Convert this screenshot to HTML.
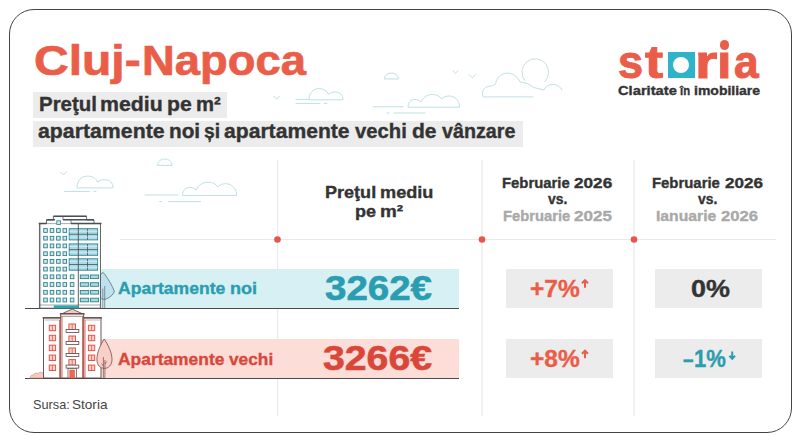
<!DOCTYPE html>
<html><head><meta charset="utf-8">
<style>
html,body{margin:0;padding:0;background:#fff;}
body{width:800px;height:442px;position:relative;overflow:hidden;font-family:"Liberation Sans",sans-serif;}
.card{position:absolute;left:8.7px;top:8.5px;width:783.2px;height:424.8px;border:1.4px solid #444;border-radius:25px;box-sizing:border-box;background:#fff;}
.t{position:absolute;white-space:nowrap;line-height:1;font-weight:bold;transform-origin:0 0;}
.c{position:absolute;white-space:nowrap;line-height:1;font-weight:bold;text-align:center;transform-origin:50% 0;}
.box{position:absolute;}
svg{position:absolute;left:0;top:0;}
</style></head><body>
<div class="card"></div>
<svg id="bg" width="800" height="442" viewBox="0 0 800 442">
<!--CLOUDS-->
<g fill="none" stroke="#bfe0e2" stroke-width="1" stroke-linecap="round" stroke-linejoin="round">
<path d="M273.6,96.1 L276.6,99.1 L279.6,96.1"/>
<path d="M309.0,99.4 C309.0,93.0 313.0,88.6 319.0,88.6 C324.0,88.6 327.0,91.0 328.5,94.5 C330.0,92.7 332.5,92.0 335.0,92.0 C340.0,92.0 343.0,95.0 343.0,99.4 Z"/>
<path d="M296.0,99.4 L309.0,99.4"/>
<path d="M296.0,103.4 L320.0,103.4"/>
<path d="M324.0,103.4 L327.0,103.4"/>
<path d="M384.4,78.6 C384.4,71.1 398.4,71.1 398.4,78.6 Z"/>
<path d="M408.0,106.8 C408.0,102.0 411.0,99.5 415.0,99.5 C417.5,99.5 419.5,100.5 421.0,102.0 C423.0,97.5 427.0,94.5 432.5,94.5 C437.0,94.5 440.0,96.5 441.5,99.0 C443.5,97.0 446.0,96.0 449.0,96.0 C455.0,96.0 459.5,100.5 459.5,106.8 Z"/>
<path d="M373.0,106.8 L403.0,106.8"/>
<path d="M394.0,113.0 L425.0,113.0"/>
<path d="M387.0,113.0 L389.0,113.0"/>
<path d="M453.0,70.8 L455.5,73.2 L458.0,70.8"/>
<path d="M469.1,74.6 L472.3,77.8 L475.6,74.6"/>
<path d="M533.1,96.9 L483.1,96.9 C481,92 484,86.8 489,86.3 C491.5,86 494,85.3 495.6,83.8 C496.5,77.5 501.5,73.1 507.5,73.1 C513.5,73.1 517.5,77 520,82 C523,82.3 525.5,83 527.5,83.8 C530,84.8 532,86 533.8,87.5 C537,88 540.5,89.5 543.8,90 C545.5,86.5 549,84.4 552.5,84.4 C557,84.4 560.5,86.5 561.9,90"/>
<path d="M524.5,80.2 A13.4,13.4 0 1 1 544.65,81.8" stroke="#cfdcdc"/>
<path d="M60.4,171.9 L63.4,174.9 L66.4,171.9"/>
<path d="M77.0,187.5 C77.0,180.7 81.2,176.1 87.6,176.1 C92.9,176.1 96.1,178.6 97.7,182.3 C99.3,180.4 101.9,179.7 104.6,179.7 C109.9,179.7 113.0,182.8 113.0,187.5 Z"/>
<path d="M64.6,191.4 L89.5,191.4"/>
<path d="M94.0,191.4 L96.0,191.4"/>
<path d="M157.6,165.0 C157.6,156.9 172.0,156.9 172.0,165.0 Z"/>
<path d="M182.5,195.0 C182.5,190.0 185.7,187.4 189.8,187.4 C192.5,187.4 194.6,188.4 196.2,190.0 C198.2,185.3 202.4,182.1 208.2,182.1 C212.9,182.1 216.1,184.2 217.7,186.9 C219.8,184.8 222.4,183.7 225.6,183.7 C231.8,183.7 236.6,188.4 236.6,195.0 Z"/>
<path d="M145.0,195.0 L178.0,195.0"/>
<path d="M168.4,201.6 L200.5,201.6"/>
<path d="M159.6,201.6 L161.6,201.6"/>
</g>
<!--/CLOUDS-->
<!-- grid lines -->
<g stroke="#e9e9e9" stroke-width="1.2" fill="none">
<line x1="277.5" y1="160" x2="277.5" y2="416"/>
<line x1="482" y1="160" x2="482" y2="416"/>
<line x1="634" y1="160" x2="634" y2="416"/>
<line x1="120" y1="239.5" x2="776" y2="239.5"/>
</g>
<g fill="#e5564f">
<circle cx="277.5" cy="239.5" r="3.3"/>
<circle cx="482" cy="239.5" r="3.3"/>
<circle cx="634" cy="239.5" r="3.3"/>
</g>
</svg>
<!-- heading boxes -->
<div class="box" style="left:33.3px;top:92px;width:193.7px;height:25.8px;background:#ececec"></div>
<div class="box" style="left:33.3px;top:120.7px;width:489.3px;height:26.1px;background:#ececec"></div>
<!-- bands -->
<div class="box" style="left:100.6px;top:268.8px;width:358.4px;height:39.6px;background:#d6f0f3"></div>
<div class="box" style="left:100.6px;top:339.1px;width:358.4px;height:39.2px;background:#fcddd7"></div>
<div class="box" style="left:24.5px;top:308.1px;width:434.5px;height:1.3px;background:#4a4a4a"></div>
<div class="box" style="left:24.5px;top:378px;width:434.5px;height:1.3px;background:#4a4a4a"></div>
<svg width="800" height="442" viewBox="0 0 800 442"><!--BLD-->
<g id="b1" stroke-linejoin="miter">
<path d="M103.1,272.4 C106.5,276 112.5,286 114.3,291.2 C113.5,295 109,298.2 105,299.3 C103,299.6 101.5,299 100.5,298 L100.5,274.5 Z" fill="#bfe0ec" stroke="#56707c" stroke-width="0.8"/>
<path d="M102.8,288.6 L102.8,308 M104.7,286 L104.7,308" stroke="#56707c" stroke-width="0.7" fill="none"/>
<rect x="39.4" y="223.6" width="61" height="84.6" fill="#fff" stroke="#4a4f57" stroke-width="0.9"/>
<path d="M46.5,223.6 L46.5,220 L53.4,220 L53.4,216.4 L86.6,216.4 L86.6,220 L94,220 L94,223.6" fill="#fff" stroke="#4a4f57" stroke-width="0.8"/>
<path d="M53.4,216.3 L86.6,216.3 M63,219.8 L94,219.8 M46.5,219.8 L55,219.8 M38.7,223.5 L46.5,223.5 M71,223.5 L101.5,223.5" stroke="#4a4f57" stroke-width="1.5" fill="none"/>
<path d="M63,216.4 L63,220 M71,220 L71,223.6" stroke="#4a4f57" stroke-width="0.7"/>
<rect x="56.8" y="220.8" width="3.8" height="3.6" fill="#cdeaf0" stroke="#33808d" stroke-width="0.8"/>
<rect x="43.7" y="228.6" width="3.6" height="3.8" fill="#cdeaf0" stroke="#33808d" stroke-width="0.9"/>
<rect x="50.2" y="228.6" width="3.6" height="3.8" fill="#cdeaf0" stroke="#33808d" stroke-width="0.9"/>
<rect x="56.6" y="228.6" width="3.6" height="3.8" fill="#cdeaf0" stroke="#33808d" stroke-width="0.9"/>
<rect x="63.0" y="228.6" width="3.6" height="3.8" fill="#cdeaf0" stroke="#33808d" stroke-width="0.9"/>
<rect x="43.7" y="236.3" width="3.6" height="3.8" fill="#cdeaf0" stroke="#33808d" stroke-width="0.9"/>
<rect x="50.2" y="236.3" width="3.6" height="3.8" fill="#cdeaf0" stroke="#33808d" stroke-width="0.9"/>
<rect x="56.6" y="236.3" width="3.6" height="3.8" fill="#cdeaf0" stroke="#33808d" stroke-width="0.9"/>
<rect x="63.0" y="236.3" width="3.6" height="3.8" fill="#cdeaf0" stroke="#33808d" stroke-width="0.9"/>
<rect x="43.7" y="244.0" width="3.6" height="3.8" fill="#cdeaf0" stroke="#33808d" stroke-width="0.9"/>
<rect x="50.2" y="244.0" width="3.6" height="3.8" fill="#cdeaf0" stroke="#33808d" stroke-width="0.9"/>
<rect x="56.6" y="244.0" width="3.6" height="3.8" fill="#cdeaf0" stroke="#33808d" stroke-width="0.9"/>
<rect x="63.0" y="244.0" width="3.6" height="3.8" fill="#cdeaf0" stroke="#33808d" stroke-width="0.9"/>
<rect x="43.7" y="251.8" width="3.6" height="3.8" fill="#cdeaf0" stroke="#33808d" stroke-width="0.9"/>
<rect x="50.2" y="251.8" width="3.6" height="3.8" fill="#cdeaf0" stroke="#33808d" stroke-width="0.9"/>
<rect x="56.6" y="251.8" width="3.6" height="3.8" fill="#cdeaf0" stroke="#33808d" stroke-width="0.9"/>
<rect x="63.0" y="251.8" width="3.6" height="3.8" fill="#cdeaf0" stroke="#33808d" stroke-width="0.9"/>
<rect x="43.7" y="259.5" width="3.6" height="3.8" fill="#cdeaf0" stroke="#33808d" stroke-width="0.9"/>
<rect x="50.2" y="259.5" width="3.6" height="3.8" fill="#cdeaf0" stroke="#33808d" stroke-width="0.9"/>
<rect x="56.6" y="259.5" width="3.6" height="3.8" fill="#cdeaf0" stroke="#33808d" stroke-width="0.9"/>
<rect x="63.0" y="259.5" width="3.6" height="3.8" fill="#cdeaf0" stroke="#33808d" stroke-width="0.9"/>
<rect x="43.7" y="267.2" width="3.6" height="3.8" fill="#cdeaf0" stroke="#33808d" stroke-width="0.9"/>
<rect x="50.2" y="267.2" width="3.6" height="3.8" fill="#cdeaf0" stroke="#33808d" stroke-width="0.9"/>
<rect x="56.6" y="267.2" width="3.6" height="3.8" fill="#cdeaf0" stroke="#33808d" stroke-width="0.9"/>
<rect x="63.0" y="267.2" width="3.6" height="3.8" fill="#cdeaf0" stroke="#33808d" stroke-width="0.9"/>
<rect x="43.7" y="274.9" width="3.6" height="3.8" fill="#cdeaf0" stroke="#33808d" stroke-width="0.9"/>
<rect x="50.2" y="274.9" width="3.6" height="3.8" fill="#cdeaf0" stroke="#33808d" stroke-width="0.9"/>
<rect x="56.6" y="274.9" width="3.6" height="3.8" fill="#cdeaf0" stroke="#33808d" stroke-width="0.9"/>
<rect x="63.0" y="274.9" width="3.6" height="3.8" fill="#cdeaf0" stroke="#33808d" stroke-width="0.9"/>
<rect x="70.3" y="274.9" width="3.6" height="3.8" fill="#cdeaf0" stroke="#33808d" stroke-width="0.9"/>
<rect x="43.7" y="282.6" width="3.6" height="3.8" fill="#cdeaf0" stroke="#33808d" stroke-width="0.9"/>
<rect x="50.2" y="282.6" width="3.6" height="3.8" fill="#cdeaf0" stroke="#33808d" stroke-width="0.9"/>
<rect x="56.6" y="282.6" width="3.6" height="3.8" fill="#cdeaf0" stroke="#33808d" stroke-width="0.9"/>
<rect x="63.0" y="282.6" width="3.6" height="3.8" fill="#cdeaf0" stroke="#33808d" stroke-width="0.9"/>
<rect x="70.3" y="282.6" width="3.6" height="3.8" fill="#cdeaf0" stroke="#33808d" stroke-width="0.9"/>
<rect x="43.7" y="290.4" width="3.6" height="3.8" fill="#cdeaf0" stroke="#33808d" stroke-width="0.9"/>
<rect x="50.2" y="290.4" width="3.6" height="3.8" fill="#cdeaf0" stroke="#33808d" stroke-width="0.9"/>
<rect x="56.6" y="290.4" width="3.6" height="3.8" fill="#cdeaf0" stroke="#33808d" stroke-width="0.9"/>
<rect x="63.0" y="290.4" width="3.6" height="3.8" fill="#cdeaf0" stroke="#33808d" stroke-width="0.9"/>
<rect x="70.3" y="290.4" width="3.6" height="3.8" fill="#cdeaf0" stroke="#33808d" stroke-width="0.9"/>
<rect x="43.7" y="298.1" width="3.6" height="3.8" fill="#cdeaf0" stroke="#33808d" stroke-width="0.9"/>
<rect x="50.2" y="298.1" width="3.6" height="3.8" fill="#cdeaf0" stroke="#33808d" stroke-width="0.9"/>
<rect x="56.6" y="298.1" width="3.6" height="3.8" fill="#cdeaf0" stroke="#33808d" stroke-width="0.9"/>
<rect x="63.0" y="298.1" width="3.6" height="3.8" fill="#cdeaf0" stroke="#33808d" stroke-width="0.9"/>
<rect x="70.3" y="298.1" width="3.6" height="3.8" fill="#cdeaf0" stroke="#33808d" stroke-width="0.9"/>
<rect x="69.2" y="228.7" width="28.4" height="11.2" fill="#a9dce8" stroke="#33808d" stroke-width="0.9"/>
<path d="M69.2,234.3 L97.6,234.3 M87.5,228.7 L87.5,239.9" stroke="#4a4f57" stroke-width="0.8" fill="none"/>
<path d="M69.2,231.3 L97.6,231.3 M69.2,237.1 L97.6,237.1" stroke="#e4f4f8" stroke-width="0.6" fill="none"/>
<rect x="69.2" y="243.9" width="28.4" height="11.4" fill="#a9dce8" stroke="#33808d" stroke-width="0.9"/>
<path d="M69.2,249.6 L97.6,249.6 M87.5,243.9 L87.5,255.3" stroke="#4a4f57" stroke-width="0.8" fill="none"/>
<path d="M69.2,246.5 L97.6,246.5 M69.2,252.4 L97.6,252.4" stroke="#e4f4f8" stroke-width="0.6" fill="none"/>
<rect x="69.2" y="258.8" width="28.4" height="11.4" fill="#a9dce8" stroke="#33808d" stroke-width="0.9"/>
<path d="M69.2,264.5 L97.6,264.5 M87.5,258.8 L87.5,270.2" stroke="#4a4f57" stroke-width="0.8" fill="none"/>
<path d="M69.2,261.4 L97.6,261.4 M69.2,267.3 L97.6,267.3" stroke="#e4f4f8" stroke-width="0.6" fill="none"/>
<rect x="80.3" y="275.0" width="8.4" height="3.6" fill="#a6dcd9" stroke="#33808d" stroke-width="0.9"/>
<rect x="90.5" y="275.0" width="8.1" height="3.6" fill="#a6dcd9" stroke="#33808d" stroke-width="0.9"/>
<rect x="80.3" y="282.7" width="8.4" height="3.6" fill="#a6dcd9" stroke="#33808d" stroke-width="0.9"/>
<rect x="90.5" y="282.7" width="8.1" height="3.6" fill="#a6dcd9" stroke="#33808d" stroke-width="0.9"/>
<rect x="80.3" y="290.5" width="8.4" height="3.6" fill="#a6dcd9" stroke="#33808d" stroke-width="0.9"/>
<rect x="90.5" y="290.5" width="8.1" height="3.6" fill="#a6dcd9" stroke="#33808d" stroke-width="0.9"/>
<rect x="80.3" y="298.2" width="8.4" height="3.6" fill="#a6dcd9" stroke="#33808d" stroke-width="0.9"/>
<rect x="90.5" y="298.2" width="8.1" height="3.6" fill="#a6dcd9" stroke="#33808d" stroke-width="0.9"/>
<path d="M78.3,223.6 L78.3,308" stroke="#4a4f57" stroke-width="0.9"/>
<path d="M40.6,224 L40.6,308" stroke="#4a4f57" stroke-width="0.4"/>
<path d="M39.4,305 L100.4,305" stroke="#4a4f57" stroke-width="0.5"/>
<rect x="53.8" y="305.4" width="24.6" height="2.8" fill="#2fa6b4"/>
</g>
<g id="b2">
<path d="M30,378 C30,375.5 32,374.8 33.5,375.2 C34,373 36.5,372.5 38,373.5 C39,371.8 42,371.8 43.5,373.5 L43.5,378 Z" fill="#f7c9c2" stroke="#c98f88" stroke-width="0.6"/>
<rect x="43.5" y="317.8" width="57.5" height="60.2" fill="#fff" stroke="#5b4646" stroke-width="0.9"/>
<path d="M42.6,317.8 L101.9,317.8" stroke="#5b4646" stroke-width="1.2"/>
<path d="M44.6,320 L100,320" stroke="#5b4646" stroke-width="0.4"/>
<rect x="60.7" y="313.8" width="23" height="64.2" fill="#fff" stroke="#5b4646" stroke-width="0.9"/>
<path d="M59.8,313.8 L84.6,313.8" stroke="#5b4646" stroke-width="1.2"/>
<path d="M60.7,316.3 L83.7,316.3" stroke="#5b4646" stroke-width="0.6"/>
<path d="M62,316.3 L62,378 M82.5,316.3 L82.5,378 M59.6,320 L59.6,378 M85,320 L85,378" stroke="#e2574a" stroke-width="0.9" fill="none"/>
<path d="M62.5,313.5 L72.1,309 L81.9,313.5 Z" fill="#f9c6be" stroke="#5b4646" stroke-width="0.8"/>
<rect x="49.3" y="325.3" width="6.3" height="5.4" fill="#fbd3cd" stroke="#e2574a" stroke-width="1"/>
<path d="M52.4,325.3 L52.4,330.7" stroke="#e2574a" stroke-width="0.8"/>
<rect x="88.4" y="325.3" width="6.3" height="5.4" fill="#fbd3cd" stroke="#e2574a" stroke-width="1"/>
<path d="M91.6,325.3 L91.6,330.7" stroke="#e2574a" stroke-width="0.8"/>
<rect x="49.3" y="335.3" width="6.3" height="5.4" fill="#fbd3cd" stroke="#e2574a" stroke-width="1"/>
<path d="M52.4,335.3 L52.4,340.7" stroke="#e2574a" stroke-width="0.8"/>
<rect x="88.4" y="335.3" width="6.3" height="5.4" fill="#fbd3cd" stroke="#e2574a" stroke-width="1"/>
<path d="M91.6,335.3 L91.6,340.7" stroke="#e2574a" stroke-width="0.8"/>
<rect x="49.3" y="345.2" width="6.3" height="5.4" fill="#fbd3cd" stroke="#e2574a" stroke-width="1"/>
<path d="M52.4,345.2 L52.4,350.6" stroke="#e2574a" stroke-width="0.8"/>
<rect x="88.4" y="345.2" width="6.3" height="5.4" fill="#fbd3cd" stroke="#e2574a" stroke-width="1"/>
<path d="M91.6,345.2 L91.6,350.6" stroke="#e2574a" stroke-width="0.8"/>
<rect x="49.3" y="355.1" width="6.3" height="5.4" fill="#fbd3cd" stroke="#e2574a" stroke-width="1"/>
<path d="M52.4,355.1 L52.4,360.5" stroke="#e2574a" stroke-width="0.8"/>
<rect x="88.4" y="355.1" width="6.3" height="5.4" fill="#fbd3cd" stroke="#e2574a" stroke-width="1"/>
<path d="M91.6,355.1 L91.6,360.5" stroke="#e2574a" stroke-width="0.8"/>
<rect x="49.3" y="365.1" width="6.3" height="5.4" fill="#fbd3cd" stroke="#e2574a" stroke-width="1"/>
<path d="M52.4,365.1 L52.4,370.5" stroke="#e2574a" stroke-width="0.8"/>
<rect x="88.4" y="365.1" width="6.3" height="5.4" fill="#fbd3cd" stroke="#e2574a" stroke-width="1"/>
<path d="M91.6,365.1 L91.6,370.5" stroke="#e2574a" stroke-width="0.8"/>
<rect x="68.9" y="324.0" width="6.6" height="5.6" fill="#fbd3cd" stroke="#e2574a" stroke-width="1"/>
<path d="M72.2,324.0 L72.2,329.6" stroke="#e2574a" stroke-width="0.8"/>
<rect x="66.1" y="329.5" width="12.7" height="3" fill="#fff" stroke="#5b4646" stroke-width="0.8"/>
<rect x="68.9" y="336.0" width="6.6" height="5.6" fill="#fbd3cd" stroke="#e2574a" stroke-width="1"/>
<path d="M72.2,336.0 L72.2,341.6" stroke="#e2574a" stroke-width="0.8"/>
<rect x="66.1" y="341.5" width="12.7" height="3" fill="#fff" stroke="#5b4646" stroke-width="0.8"/>
<rect x="68.9" y="348.0" width="6.6" height="5.6" fill="#fbd3cd" stroke="#e2574a" stroke-width="1"/>
<path d="M72.2,348.0 L72.2,353.6" stroke="#e2574a" stroke-width="0.8"/>
<rect x="66.1" y="353.5" width="12.7" height="3" fill="#fff" stroke="#5b4646" stroke-width="0.8"/>
<rect x="68.9" y="359.6" width="6.6" height="5.6" fill="#fbd3cd" stroke="#e2574a" stroke-width="1"/>
<path d="M72.2,359.6 L72.2,365.2" stroke="#e2574a" stroke-width="0.8"/>
<rect x="66.1" y="365.1" width="12.7" height="3" fill="#fff" stroke="#5b4646" stroke-width="0.8"/>
<rect x="68" y="368.5" width="8.5" height="9.5" fill="#fff" stroke="#5b4646" stroke-width="0.7"/>
<rect x="69.8" y="370" width="4.8" height="8" fill="#ec6a4f" stroke="#e2574a" stroke-width="0.6"/>
<path d="M104.2,339 C107.5,344 112,352 112,359.5 C112,365 108.5,368.4 104.4,368.4 C100.2,368.4 96.9,365 96.9,359.5 C96.9,352 101,344 104.2,339 Z" fill="#f9cfc8" stroke="#7a4a45" stroke-width="0.8"/>
<path d="M103.4,378 L103.4,357 M104.9,378 L104.9,360 M104.9,364 L106.8,361.5 M103.4,366 L101.5,363.5" stroke="#7a4a45" stroke-width="0.7" fill="none"/>
</g>
<!--/BLD--></svg>
<!-- pct boxes -->
<div class="box" style="left:506.4px;top:268.7px;width:106.7px;height:39.5px;background:#ececec"></div>
<div class="box" style="left:655.2px;top:268.7px;width:106.8px;height:39.5px;background:#ececec"></div>
<div class="box" style="left:506.4px;top:339.1px;width:106.7px;height:39.1px;background:#ececec"></div>
<div class="box" style="left:655.2px;top:339.1px;width:106.8px;height:39.1px;background:#ececec"></div>

<!--TEXTS-->
<div class="t" id="ti1" style="left:33.90px;top:40.00px;font-size:42.5px;transform:scaleX(1.1301);color:#ea5e49;-webkit-text-stroke:0.7px #ea5e49;">Cluj-</div>
<div class="t" id="ti2" style="left:142.33px;top:40.00px;font-size:42.5px;transform:scaleX(1.0675);color:#ea5e49;-webkit-text-stroke:0.7px #ea5e49;">Napoca</div>
<div class="t" id="h1a" style="left:38.94px;top:95.00px;font-size:19.5px;transform:scaleX(1.0493);color:#333;-webkit-text-stroke:0.35px #333;">Preţul</div>
<div class="t" id="h1b" style="left:100.41px;top:95.00px;font-size:19.5px;transform:scaleX(1.0932);color:#333;-webkit-text-stroke:0.35px #333;">mediu</div>
<div class="t" id="h1c" style="left:167.01px;top:95.00px;font-size:19.5px;transform:scaleX(1.0894);color:#333;-webkit-text-stroke:0.35px #333;">pe</div>
<div class="t" id="h1d" style="left:195.86px;top:95.00px;font-size:19.5px;transform:scaleX(1.0378);color:#333;-webkit-text-stroke:0.35px #333;">m²</div>
<div class="t" id="h20" style="left:38.45px;top:122.00px;font-size:19.5px;transform:scaleX(1.0913);color:#333;-webkit-text-stroke:0.35px #333;">apartamente</div>
<div class="t" id="h21" style="left:168.69px;top:122.00px;font-size:19.5px;transform:scaleX(1.0648);color:#333;-webkit-text-stroke:0.35px #333;">noi</div>
<div class="t" id="h22" style="left:203.91px;top:122.00px;font-size:19.5px;transform:scaleX(0.9897);color:#333;-webkit-text-stroke:0.35px #333;">și</div>
<div class="t" id="h23" style="left:223.66px;top:122.00px;font-size:19.5px;transform:scaleX(1.0830);color:#333;-webkit-text-stroke:0.35px #333;">apartamente</div>
<div class="t" id="h24" style="left:354.90px;top:122.00px;font-size:19.5px;transform:scaleX(1.0379);color:#333;-webkit-text-stroke:0.35px #333;">vechi</div>
<div class="t" id="h25" style="left:411.59px;top:122.00px;font-size:19.5px;transform:scaleX(1.0791);color:#333;-webkit-text-stroke:0.35px #333;">de</div>
<div class="t" id="h26" style="left:441.50px;top:122.00px;font-size:19.5px;transform:scaleX(1.0118);color:#333;-webkit-text-stroke:0.35px #333;">vânzare</div>
<div class="t" id="c1a" style="left:325.16px;top:184.00px;font-size:16.5px;transform:scaleX(1.0939);color:#333;-webkit-text-stroke:0.35px #333;">Preţul</div>
<div class="t" id="c1b" style="left:379.50px;top:184.00px;font-size:16.5px;transform:scaleX(1.0995);color:#333;-webkit-text-stroke:0.35px #333;">mediu</div>
<div class="t" id="c1c" style="left:355.16px;top:203.00px;font-size:16.5px;transform:scaleX(1.0901);color:#333;-webkit-text-stroke:0.35px #333;">pe</div>
<div class="t" id="c1d" style="left:380.11px;top:203.00px;font-size:16.5px;transform:scaleX(1.1447);color:#333;-webkit-text-stroke:0.35px #333;">m²</div>
<div class="t" id="c2a" style="left:502.24px;top:176.00px;font-size:14.7px;transform:scaleX(1.0106);color:#333;-webkit-text-stroke:0.35px #333;">Februarie</div>
<div class="t" id="c2b" style="left:574.31px;top:176.00px;font-size:14.7px;transform:scaleX(1.1687);color:#333;-webkit-text-stroke:0.35px #333;">2026</div>
<div class="t" id="c2c" style="left:548.30px;top:192.00px;font-size:14.7px;transform:scaleX(0.9487);color:#333;-webkit-text-stroke:0.35px #333;">vs.</div>
<div class="t" id="c2d" style="left:502.65px;top:209.00px;font-size:14.7px;transform:scaleX(1.0045);color:#a9a9a9;-webkit-text-stroke:0.35px #a9a9a9;">Februarie</div>
<div class="t" id="c2e" style="left:574.31px;top:209.00px;font-size:14.7px;transform:scaleX(1.1597);color:#a9a9a9;-webkit-text-stroke:0.35px #a9a9a9;">2025</div>
<div class="t" id="c3a" style="left:652.14px;top:176.00px;font-size:14.7px;transform:scaleX(1.0136);color:#333;-webkit-text-stroke:0.35px #333;">Februarie</div>
<div class="t" id="c3b" style="left:724.51px;top:176.00px;font-size:14.7px;transform:scaleX(1.1625);color:#333;-webkit-text-stroke:0.35px #333;">2026</div>
<div class="t" id="c3c" style="left:698.30px;top:192.00px;font-size:14.7px;transform:scaleX(0.9487);color:#333;-webkit-text-stroke:0.35px #333;">vs.</div>
<div class="t" id="c3d" style="left:656.40px;top:209.00px;font-size:14.7px;transform:scaleX(1.0697);color:#a9a9a9;-webkit-text-stroke:0.35px #a9a9a9;">Ianuarie</div>
<div class="t" id="c3e" style="left:720.72px;top:209.00px;font-size:14.7px;transform:scaleX(1.1344);color:#a9a9a9;-webkit-text-stroke:0.35px #a9a9a9;">2026</div>
<div class="t" id="r1a" style="left:118.14px;top:280.00px;font-size:17px;transform:scaleX(1.0324);color:#2a9db0;-webkit-text-stroke:0.35px #2a9db0;">Apartamente</div>
<div class="t" id="r1b" style="left:229.94px;top:280.00px;font-size:17px;transform:scaleX(1.0638);color:#2a9db0;-webkit-text-stroke:0.35px #2a9db0;">noi</div>
<div class="t" id="r2a" style="left:117.64px;top:351.00px;font-size:17px;transform:scaleX(1.0237);color:#d9473a;-webkit-text-stroke:0.35px #d9473a;">Apartamente</div>
<div class="t" id="r2b" style="left:229.30px;top:351.00px;font-size:17px;transform:scaleX(1.0165);color:#d9473a;-webkit-text-stroke:0.35px #d9473a;">vechi</div>
<div class="t" id="r1v" style="left:325.44px;top:271.00px;font-size:34.6px;transform:scaleX(1.1129);color:#2a9db0;-webkit-text-stroke:0.6px #2a9db0;">3262€</div>
<div class="t" id="r2v" style="left:322.93px;top:341.00px;font-size:34.6px;transform:scaleX(1.1339);color:#d9473a;-webkit-text-stroke:0.6px #d9473a;">3266€</div>
<div class="t" id="p1" style="left:529.70px;top:278.00px;font-size:23px;transform:scaleX(1.0659);color:#ea5e49;-webkit-text-stroke:0.35px #ea5e49;">+7%</div>
<div class="t" id="p2" style="left:529.70px;top:348.00px;font-size:23px;transform:scaleX(1.0659);color:#ea5e49;-webkit-text-stroke:0.35px #ea5e49;">+8%</div>
<div class="t" id="p3" style="left:690.62px;top:278.00px;font-size:23px;transform:scaleX(1.1719);color:#333;-webkit-text-stroke:0.35px #333;">0%</div>
<div class="t" id="p4a" style="left:683.39px;top:348.00px;font-size:23px;transform:scaleX(0.8255);color:#2a9db0;-webkit-text-stroke:0.35px #2a9db0;">–</div>
<div class="t" id="p4b" style="left:694.01px;top:348.00px;font-size:23px;transform:scaleX(0.9556);color:#2a9db0;-webkit-text-stroke:0.35px #2a9db0;">1%</div>
<div class="t" id="s1" style="left:33.02px;top:399.00px;font-size:12.2px;transform:scaleX(1.0433);color:#444;-webkit-text-stroke:0.0px #444;font-weight:normal;">Sursa:</div>
<div class="t" id="s2" style="left:71.67px;top:399.00px;font-size:12.2px;transform:scaleX(1.1129);color:#444;-webkit-text-stroke:0.0px #444;font-weight:normal;">Storia</div>
<div class="t" id="lgs" style="left:617.54px;top:38.00px;font-size:47px;transform:scaleX(0.9600);color:#ea5e49;-webkit-text-stroke:1.0px #ea5e49;">s</div>
<div class="t" id="lgt" style="left:645.00px;top:38.00px;font-size:47px;transform:scaleX(1.1613);color:#ea5e49;-webkit-text-stroke:1.0px #ea5e49;">t</div>
<div class="t" id="lgr" style="left:695.05px;top:38.00px;font-size:47px;transform:scaleX(1.2194);color:#ea5e49;-webkit-text-stroke:1.0px #ea5e49;">r</div>
<div class="t" id="lgi" style="left:717.46px;top:38.00px;font-size:47px;transform:scaleX(1.1067);color:#ea5e49;-webkit-text-stroke:1.0px #ea5e49;">ı</div>
<div class="t" id="lga" style="left:734.06px;top:38.00px;font-size:47px;transform:scaleX(0.9423);color:#ea5e49;-webkit-text-stroke:1.0px #ea5e49;">a</div>
<div class="t" id="tg1" style="left:618.21px;top:85.00px;font-size:12.6px;transform:scaleX(1.1678);color:#333;-webkit-text-stroke:0.35px #333;">Claritate</div>
<div class="t" id="tg2" style="left:680.07px;top:85.00px;font-size:12.6px;transform:scaleX(0.8978);color:#333;-webkit-text-stroke:0.35px #333;">în</div>
<div class="t" id="tg3" style="left:693.67px;top:85.00px;font-size:12.6px;transform:scaleX(1.1111);color:#333;-webkit-text-stroke:0.35px #333;">imobiliare</div>
<!--/TEXTS-->






<svg width="800" height="442" viewBox="0 0 800 442" fill="none" stroke-width="2">
<path d="M585,287.8 L585,280.5 M582,283.2 L585,280.2 L588,283.2" stroke="#ea5e49"/>
<path d="M585,358.3 L585,351 M582,353.7 L585,350.7 L588,353.7" stroke="#ea5e49"/>
<path d="M732.2,351.6 L732.2,358.4 M729.4,355.8 L732.2,358.7 L735,355.8" stroke="#2a9db0"/>
</svg>

<!-- logo -->
<div class="box" style="left:668px;top:52px;width:27px;height:26.4px;background:#2fb3c9"></div>
<div class="box" style="left:673.2px;top:56.9px;width:16.2px;height:16.2px;border-radius:50%;background:#fff"></div>
<div class="box" style="left:719.8px;top:40.1px;width:9.6px;height:9.6px;border-radius:50%;background:#ea5e49"></div>
</body></html>
